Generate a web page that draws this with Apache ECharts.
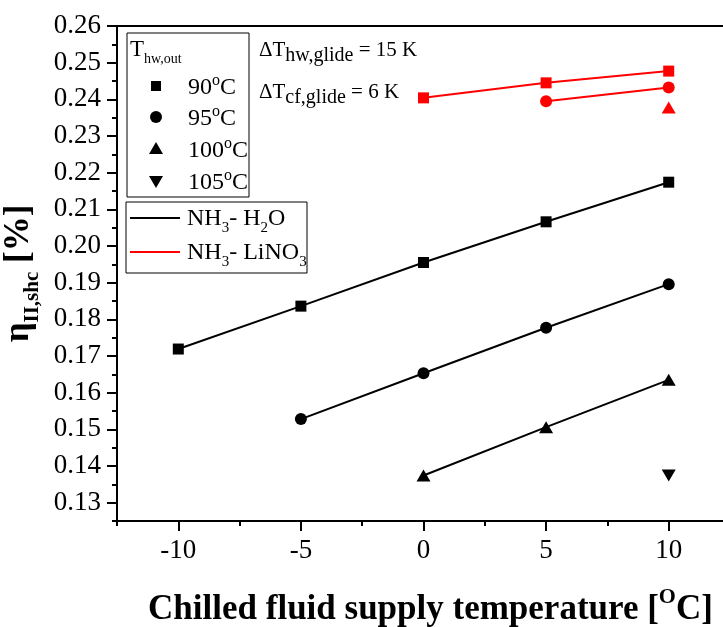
<!DOCTYPE html>
<html>
<head>
<meta charset="utf-8">
<script src="https://cdn.jsdelivr.net/npm/echarts@6/dist/echarts.min.js"></script>
<style>
  html, body { margin: 0; padding: 0; background: #fff; }
  #chart { width: 723px; height: 627px; }
</style>
</head>
<body>
<div id="chart"></div>
<script>
// chilled fluid supply temperature [°C]
const tempC = [-10, -5, 0, 5, 10];

// NH3-H2O, one array per hot-water outlet temperature (null = no point)
const h2o90 = [0.1719, 0.1836, 0.1955, 0.2066, 0.2174];
const h2o95 = [null, 0.1528, 0.1653, 0.1777, 0.1896];
const h2o100 = [null, null, 0.1374, 0.1506, 0.1635];
const h2o105 = [null, null, null, null, 0.1374];

// NH3-LiNO3
const lino90 = [null, null, 0.2404, 0.2445, 0.2477];
const lino95 = [null, null, null, 0.2395, 0.2432];
const lino100 = [null, null, null, null, 0.2378];

// tick labels
const xTicks = [-10, -5, 0, 5, 10];
const xMinorTicks = [-12.5, -7.5, -2.5, 2.5, 7.5, 12.5];
const yTicks = [0.13, 0.14, 0.15, 0.16, 0.17, 0.18, 0.19, 0.2, 0.21, 0.22, 0.23, 0.24, 0.25, 0.26];
const yMinorTicks = [0.125, 0.135, 0.145, 0.155, 0.165, 0.175, 0.185, 0.195, 0.205, 0.215, 0.225, 0.235, 0.245, 0.255];

const serif = "'Liberation Serif', 'DejaVu Serif', serif";

const toPairs = (vals) =>
  tempC.map((t, i) => [t, vals[i]]).filter((p) => p[1] != null);

const makeSeries = (name, vals, color, symbol, size, rotate) => ({
  name: name,
  type: "line",
  data: toPairs(vals),
  symbol: symbol,
  symbolSize: size,
  symbolRotate: rotate || 0,
  showSymbol: true,
  lineStyle: { color: color, width: 2 },
  itemStyle: { color: color },
  emphasis: { disabled: true },
  z: 5,
});

const chart = echarts.init(document.getElementById("chart"));

chart.setOption({
  animation: false,
  grid: {
    left: 117,
    top: 26,
    right: -7,
    bottom: 106,
    show: true,
    borderColor: "#000",
    borderWidth: 2,
    outerBoundsMode: "none",
  },
  xAxis: [
    {
      type: "value",
      min: -12.5,
      max: 12.5,
      position: "bottom",
      name: "{b|Chilled fluid supply temperature [}{sup|O}{b|C]}",
      nameLocation: "middle",
      nameGap: 65,
      nameTextStyle: {
        padding: [0, 0, 0, 14],
        rich: {
          b: {
            fontFamily: serif,
            fontWeight: "bold",
            fontSize: 35,
            color: "#000",
            verticalAlign: "bottom",
            padding: [6, 0, 0, 0],
          },
          sup: {
            fontFamily: serif,
            fontWeight: "bold",
            fontSize: 22,
            color: "#000",
            verticalAlign: "top",
          },
        },
      },
      axisLine: { onZero: false, lineStyle: { color: "#000", width: 2 } },
      axisTick: {
        customValues: xTicks,
        length: 10,
        lineStyle: { color: "#000", width: 2 },
      },
      axisLabel: {
        customValues: xTicks,
        margin: 16,
        fontFamily: serif,
        fontSize: 27,
        color: "#000",
      },
      splitLine: { show: false },
    },
    {
      type: "value",
      min: -12.5,
      max: 12.5,
      position: "bottom",
      axisLine: { show: false, onZero: false },
      axisTick: {
        customValues: xMinorTicks,
        length: 5,
        lineStyle: { color: "#000", width: 2 },
      },
      axisLabel: { show: false },
      splitLine: { show: false },
    },
  ],
  yAxis: [
    {
      type: "value",
      min: 0.125,
      max: 0.26,
      position: "left",
      name: "{m|η}{s|II,shc}{m| [%]}",
      nameLocation: "middle",
      nameGap: 69,
      nameTextStyle: {
        rich: {
          m: {
            fontFamily: serif,
            fontWeight: "bold",
            fontSize: 35,
            color: "#000",
            verticalAlign: "top",
            padding: [0, 0, 6, 0],
          },
          s: {
            fontFamily: serif,
            fontWeight: "bold",
            fontSize: 21,
            color: "#000",
            verticalAlign: "bottom",
          },
        },
      },
      axisLine: { onZero: false, lineStyle: { color: "#000", width: 2 } },
      axisTick: {
        customValues: yTicks,
        length: 10,
        lineStyle: { color: "#000", width: 2 },
      },
      axisLabel: {
        customValues: yTicks,
        margin: 16,
        fontFamily: serif,
        fontSize: 27,
        color: "#000",
        formatter: (v) => v.toFixed(2),
      },
      splitLine: { show: false },
    },
    {
      type: "value",
      min: 0.125,
      max: 0.26,
      position: "left",
      axisLine: { show: false, onZero: false },
      axisTick: {
        customValues: yMinorTicks,
        length: 5,
        lineStyle: { color: "#000", width: 2 },
      },
      axisLabel: { show: false },
      splitLine: { show: false },
    },
  ],
  series: [
    makeSeries("NH3-H2O 90", h2o90, "#000", "rect", 11),
    makeSeries("NH3-H2O 95", h2o95, "#000", "circle", 12),
    makeSeries("NH3-H2O 100", h2o100, "#000", "triangle", [14, 12]),
    makeSeries("NH3-H2O 105", h2o105, "#000", "triangle", [14, 12], 180),
    makeSeries("NH3-LiNO3 90", lino90, "#f00", "rect", 11),
    makeSeries("NH3-LiNO3 95", lino95, "#f00", "circle", 12),
    makeSeries("NH3-LiNO3 100", lino100, "#f00", "triangle", [14, 12]),
  ],
  graphic: [
    // legend box for the symbols
    {
      type: "rect",
      shape: { x: 127, y: 33, width: 122, height: 164 },
      style: { fill: "#fff", stroke: "#000", lineWidth: 1 },
      z: 10,
    },
    {
      type: "text",
      x: 130,
      y: 52,
      z: 11,
      style: {
        text: "{m|T}{s|hw,out}",
        verticalAlign: "middle",
        rich: {
          m: { fontFamily: serif, fontSize: 23, fill: "#000", verticalAlign: "top", padding: [0, 0, 5, 0] },
          s: { fontFamily: serif, fontSize: 14, fill: "#000", verticalAlign: "bottom" },
        },
      },
    },
    { type: "rect", shape: { x: 151, y: 81, width: 10, height: 10 }, style: { fill: "#000" }, z: 11 },
    { type: "circle", shape: { cx: 156, cy: 117, r: 6 }, style: { fill: "#000" }, z: 11 },
    { type: "polygon", shape: { points: [[156, 142], [149, 154], [163, 154]] }, style: { fill: "#000" }, z: 11 },
    { type: "polygon", shape: { points: [[149, 176], [163, 176], [156, 188]] }, style: { fill: "#000" }, z: 11 },
    ...[["90", 86], ["95", 117], ["100", 149], ["105", 181]].map((r) => ({
      type: "text",
      x: 188,
      y: r[1],
      z: 11,
      style: {
        text: "{m|" + r[0] + "}{o|o}{m|C}",
        verticalAlign: "middle",
        rich: {
          m: { fontFamily: serif, fontSize: 24, fill: "#000", verticalAlign: "bottom", padding: [3, 0, 0, 0] },
          o: { fontFamily: serif, fontSize: 16, fill: "#000", verticalAlign: "top" },
        },
      },
    })),
    // legend box for the lines
    {
      type: "rect",
      shape: { x: 126, y: 202, width: 181, height: 71 },
      style: { fill: "#fff", stroke: "#000", lineWidth: 1 },
      z: 10,
    },
    { type: "line", shape: { x1: 130, y1: 218, x2: 180, y2: 218 }, style: { stroke: "#000", lineWidth: 2 }, z: 11 },
    { type: "line", shape: { x1: 130, y1: 252, x2: 180, y2: 252 }, style: { stroke: "#f00", lineWidth: 2 }, z: 11 },
    ...[["NH", "3", "- H", "2", "O", 221], ["NH", "3", "- LiNO", "3", "", 255]].map((r) => ({
      type: "text",
      x: 187,
      y: r[5],
      z: 11,
      style: {
        text: "{m|" + r[0] + "}{s|" + r[1] + "}{m|" + r[2] + "}{s|" + r[3] + "}" + (r[4] ? "{m|" + r[4] + "}" : ""),
        verticalAlign: "middle",
        rich: {
          m: { fontFamily: serif, fontSize: 24, fill: "#000", verticalAlign: "top", padding: [0, 0, 5, 0] },
          s: { fontFamily: serif, fontSize: 15, fill: "#000", verticalAlign: "bottom" },
        },
      },
    })),
    // glide annotations
    ...[["hw,glide", " = 15 K", 53], ["cf,glide", " = 6 K", 95]].map((r) => ({
      type: "text",
      x: 259,
      y: r[2],
      z: 11,
      style: {
        text: "{m|ΔT}{s|" + r[0] + "}{m|" + r[1] + "}",
        verticalAlign: "middle",
        rich: {
          m: { fontFamily: serif, fontSize: 21, fill: "#000", verticalAlign: "top", padding: [0, 0, 5, 0] },
          s: { fontFamily: serif, fontSize: 20, fill: "#000", verticalAlign: "bottom" },
        },
      },
    })),
  ],
});
</script>
</body>
</html>
